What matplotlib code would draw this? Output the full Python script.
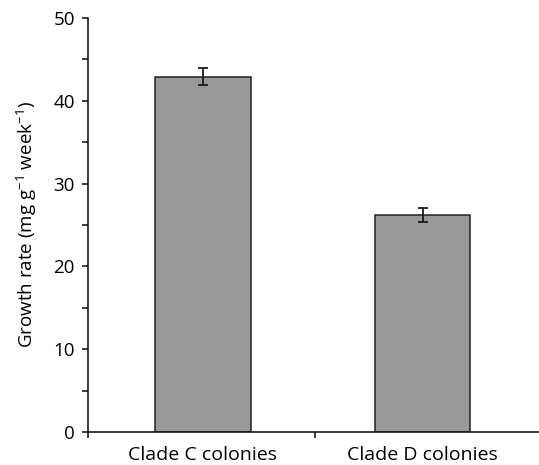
import matplotlib
matplotlib.use("Agg")
import matplotlib.pyplot as plt
from matplotlib.ticker import MultipleLocator, FixedLocator

plt.rcParams['font.family'] = ['Open Sans', 'DejaVu Sans']
plt.rcParams['mathtext.fontset'] = 'custom'
plt.rcParams['mathtext.rm'] = 'Open Sans'
plt.rcParams['mathtext.it'] = 'Open Sans'

# data
categories = ['Clade C colonies', 'Clade D colonies']
growth = [42.9, 26.2]
err = [1.05, 0.85]

fig = plt.figure(figsize=(5.39, 4.65), dpi=100)
ax = fig.add_axes([88 / 539, 33 / 465, 1 - 88 / 539, 414 / 465])

xpos = [0, 1]
ax.bar(xpos, growth, width=0.435, color='#999999', edgecolor='#222222', linewidth=1.1, zorder=2)
ax.errorbar(xpos, growth, yerr=err, fmt='none', ecolor='#1a1a1a', elinewidth=1.3,
            capsize=3.3, capthick=1.3, zorder=3)

ax.set_xlim(-0.522, 1.53)
ax.set_ylim(0, 50)
ax.spines['top'].set_visible(False)
ax.spines['right'].set_visible(False)
for s in ['left', 'bottom']:
    ax.spines[s].set_linewidth(1.2)
    ax.spines[s].set_color('#1a1a1a')

ax.yaxis.set_major_locator(MultipleLocator(10))
ax.yaxis.set_minor_locator(MultipleLocator(5))
ax.tick_params(axis='y', which='both', direction='out', length=4.5, width=1.2, color='#1a1a1a',
               labelsize=13.5, pad=5)

# category labels at bar centres, tick marks at category boundaries
ax.xaxis.set_major_locator(FixedLocator([-0.522, 0.511]))
ax.set_xticklabels(['', ''])
ax.xaxis.set_minor_locator(FixedLocator(xpos))
ax.set_xticklabels(categories, minor=True)
ax.tick_params(axis='x', which='major', direction='out', length=4, width=1.2, color='#1a1a1a')
ax.tick_params(axis='x', which='minor', length=0, labelsize=14, pad=10)

ax.set_ylabel('Growth rate (mg g$^{-1}$ week$^{-1}$)', fontsize=13.5, labelpad=10)

fig.savefig('out.png', dpi=100)
